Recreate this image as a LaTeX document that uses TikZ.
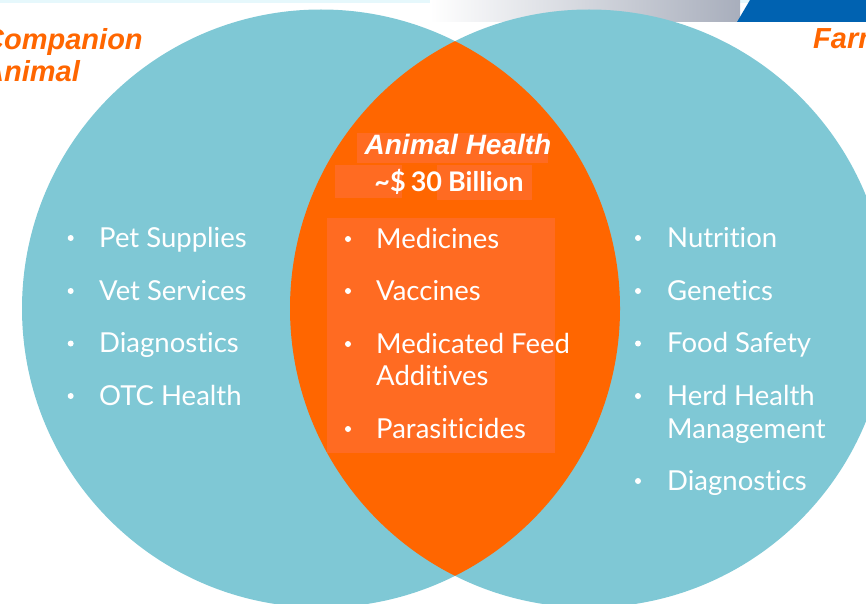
\documentclass[tikz,border=0pt]{standalone}
\usepackage{fontspec}
\setmainfont{Lato}[Ligatures={NoCommon,NoRare}]
\newfontfamily\arialfam{Liberation Sans}
\definecolor{vteal}{HTML}{7FC8D5}
\definecolor{vorange}{HTML}{FF6600}
\definecolor{vlight}{HTML}{FF6B22}
\definecolor{vblue}{HTML}{0062B1}
\definecolor{vgray}{HTML}{A8AEBC}
\definecolor{vstrip}{HTML}{E6F8FC}
\tikzset{
  item/.style={anchor=base west, text=white, inner sep=0pt, font=\fontsize{27.5}{33}\selectfont},
  bul/.style={fill=white},
  sidetitle/.style={anchor=base west, text=vorange, inner sep=0pt, font=\arialfam\bfseries\itshape\fontsize{29}{34}\selectfont},
  hilite/.style={fill=vlight}
}
\begin{document}
\begin{tikzpicture}[x=1pt,y=-1pt]
\useasboundingbox (0,0) rectangle (866,604);
% header
\fill[vstrip] (0,0) rectangle (866,3);
\shade[left color=white, right color=vgray] (430,0) rectangle (740,22);
\fill[vblue] (737,22) -- (750,0) -- (866,0) -- (866,22) -- cycle;
% circles
\fill[vteal] (321,308.5) circle [radius=299pt];
\fill[vteal] (589,308.5) circle [radius=299pt];
\begin{scope}
  \clip (321,308.5) circle [radius=299pt];
  \fill[vorange] (589,308.5) circle [radius=299pt];
\end{scope}
% faint highlight boxes
\fill[hilite] (327,218) rectangle (555,453);
\fill[hilite] (357,133) rectangle (548,163);
\fill[hilite] (335,165) rectangle (402,198);
\fill[hilite] (437,165) rectangle (532,200);
% side titles
\node[sidetitle] (comp1) at (-17,50) {Companion};
\node[sidetitle] (comp2) at (-17,82) {Animal};
\node[sidetitle] (farm) at (813,49) {Farm};
% center titles
\node[anchor=base, text=white, inner sep=0pt, font=\arialfam\bfseries\itshape\fontsize{28}{30}\selectfont] (ah) at (458,155) {Animal Health};
\node[anchor=base, text=white, inner sep=0pt, font=\bfseries\fontsize{27}{30}\selectfont] (bn) at (449,191) {\textasciitilde\$\hspace{5pt}30\hspace{6pt}Billion};
% left list
\foreach \y in {238,291,343.5,396} \fill[bul] (70.7,\y) circle [radius=3pt];
\node[item] (l1) at (99,247) {Pet Supplies};
\node[item] (l2) at (99,300) {Vet Services};
\node[item] (l3) at (99,352.5) {Diagnostics};
\node[item] (l4) at (99,405) {OTC Health};
% center list
\foreach \y in {239,291,344,429} \fill[bul] (348,\y) circle [radius=3pt];
\node[item] (c1) at (376,248) {Medicines};
\node[item] (c2) at (376,300) {Vaccines};
\node[item] (c3) at (376,353) {Medicated Feed};
\node[item] (c3b) at (376,385) {Additives};
\node[item] (c4) at (376,438) {Parasiticides};
% right list
\foreach \y in {238,291,343.5,396,481} \fill[bul] (638,\y) circle [radius=3pt];
\node[item] (r1) at (667,247) {Nutrition};
\node[item] (r2) at (667,300) {Genetics};
\node[item] (r3) at (667,352.7) {Food Safety};
\node[item] (r4) at (667,405) {Herd Health};
\node[item] (r4b) at (667,438) {Management};
\node[item] (r5) at (667,490) {Diagnostics};
\end{tikzpicture}
\end{document}
